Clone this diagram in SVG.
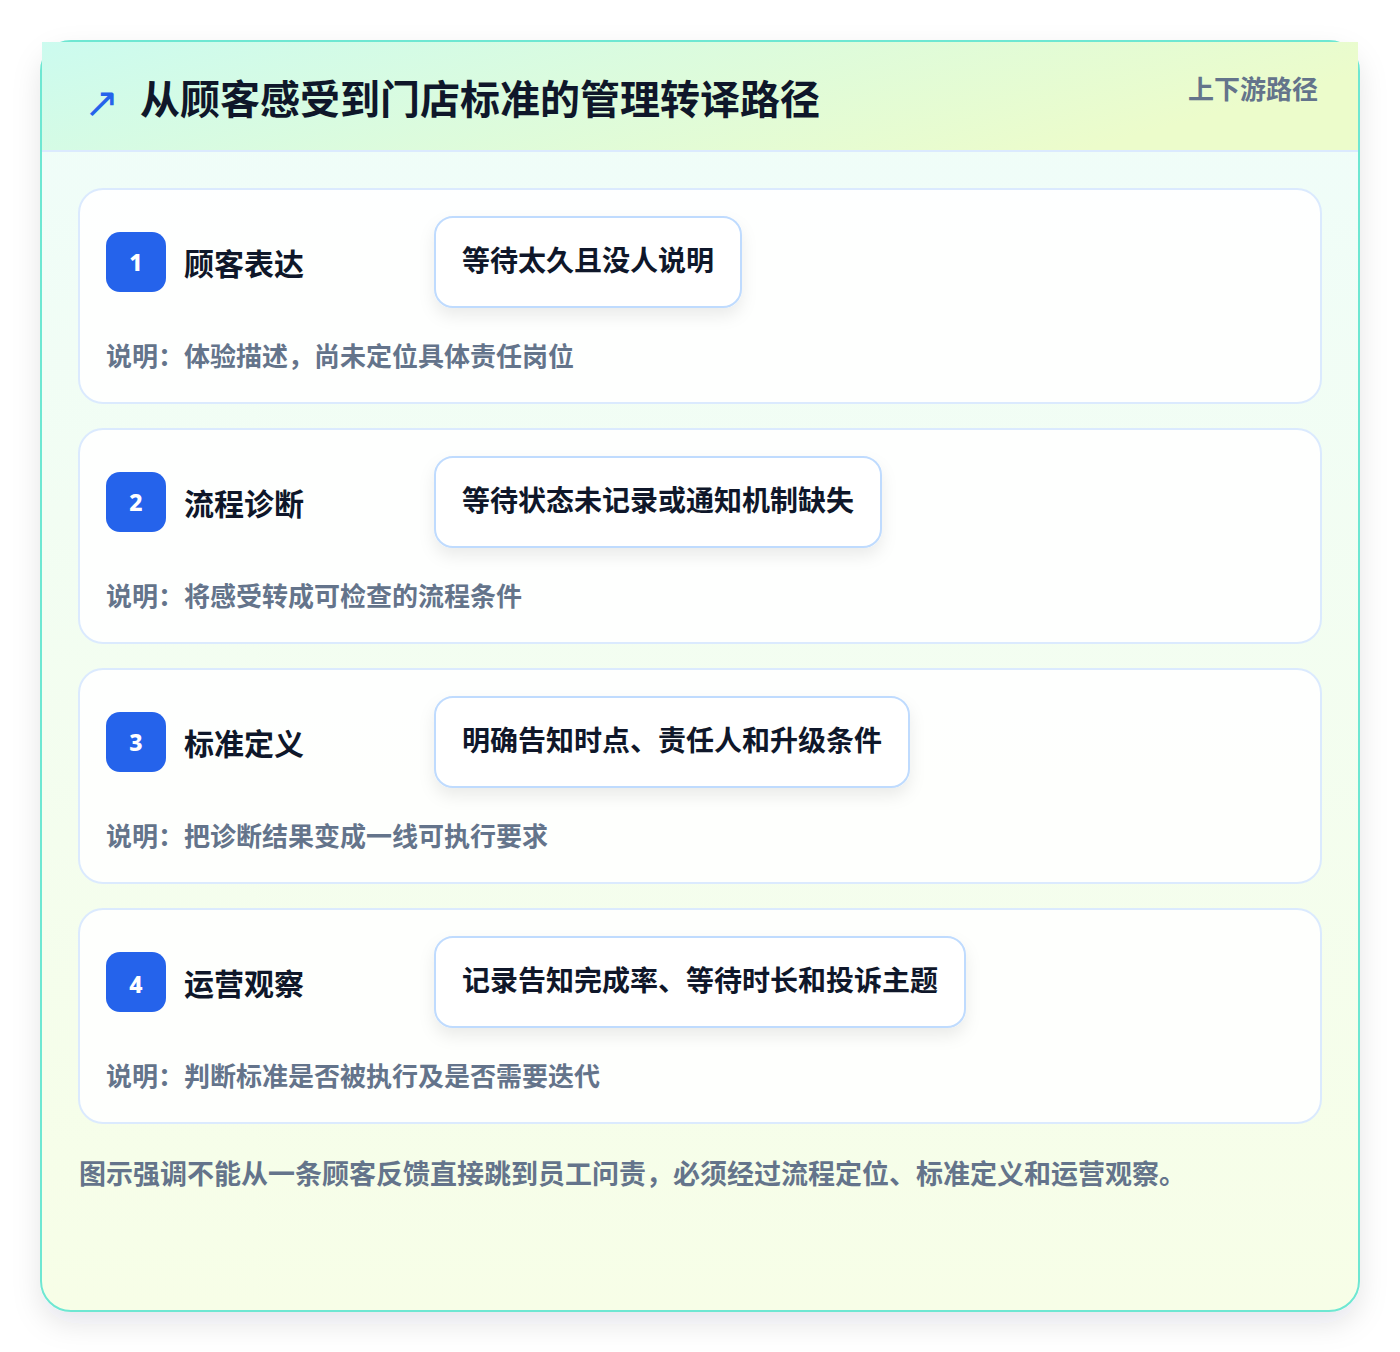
<svg xmlns="http://www.w3.org/2000/svg" width="1400" height="1352" viewBox="0 0 1400 1352">
<defs>
<linearGradient id="hdr" x1="0" y1="0" x2="1" y2="0.3">
<stop offset="0" stop-color="#ccfbef"/>
<stop offset="1" stop-color="#ecfccb"/>
</linearGradient>
<linearGradient id="body" x1="0" y1="0" x2="0" y2="1">
<stop offset="0" stop-color="#effdfa"/>
<stop offset="1" stop-color="#f7fee7"/>
</linearGradient>
<filter id="cardShadow" x="-10%" y="-10%" width="120%" height="120%">
<feDropShadow dx="0" dy="12" stdDeviation="14" flood-color="#0f172a" flood-opacity="0.10"/>
</filter>
<filter id="pillShadow" x="-20%" y="-30%" width="140%" height="170%">
<feDropShadow dx="0" dy="8" stdDeviation="8" flood-color="#0f172a" flood-opacity="0.08"/>
</filter>
<style>
.t{font-family:"Noto Sans CJK SC","Noto Sans",sans-serif;font-weight:700}
.title{font-size:40px;fill:#0f172a}
.tag{font-size:26px;fill:#64748b}
.step{fill:#ffffff;fill-opacity:0.88;stroke:#dbeafe;stroke-width:2}
.badge{fill:#2563eb}
.num{font-size:23px;fill:#ffffff;font-family:"Noto Sans","DejaVu Sans",sans-serif;font-weight:800}
.label{font-size:30px;fill:#0f172a}
.pill{fill:#ffffff;stroke:#bfdbfe;stroke-width:2}
.ptxt{font-size:28px;fill:#0f172a}
.desc{font-size:26px;fill:#64748b}
.foot{font-size:27px;fill:#64748b}
</style>
</defs>
<rect width="1400" height="1352" fill="#ffffff"/>
<g id="frame">
<rect x="41" y="41" width="1318" height="1270" rx="30" fill="url(#body)" stroke="#6ee7d2" stroke-width="2" filter="url(#cardShadow)"/>
<rect x="42" y="42" width="1316" height="109" fill="url(#hdr)"/>
<line x1="42" y1="151" x2="1358" y2="151" stroke="#dbeafe" stroke-width="2"/>
</g>
<g id="header">
<text x="84" y="117" font-family="'DejaVu Sans',sans-serif" font-size="42" fill="#2563eb">↗</text>
<text class="t title" x="140" y="114">从顾客感受到门店标准的管理转译路径</text>
<text class="t tag" x="1318" y="99" text-anchor="end">上下游路径</text>
</g>
<g id="connectors"></g>
<g id="step1">
<rect class="step" x="79" y="189" width="1242" height="214" rx="24"/>
<rect class="badge" x="106" y="232" width="60" height="60" rx="14"/>
<text class="num" x="136" y="271" text-anchor="middle">1</text>
<text class="t label" x="184" y="275">顾客表达</text>
<rect class="pill" x="435" y="217" width="306" height="90" rx="18" filter="url(#pillShadow)"/>
<text class="t ptxt" x="462" y="271">等待太久且没人说明</text>
<text class="t desc" x="106" y="366">说明：体验描述，尚未定位具体责任岗位</text>
</g>
<g id="step2">
<rect class="step" x="79" y="429" width="1242" height="214" rx="24"/>
<rect class="badge" x="106" y="472" width="60" height="60" rx="14"/>
<text class="num" x="136" y="511" text-anchor="middle">2</text>
<text class="t label" x="184" y="515">流程诊断</text>
<rect class="pill" x="435" y="457" width="446" height="90" rx="18" filter="url(#pillShadow)"/>
<text class="t ptxt" x="462" y="511">等待状态未记录或通知机制缺失</text>
<text class="t desc" x="106" y="606">说明：将感受转成可检查的流程条件</text>
</g>
<g id="step3">
<rect class="step" x="79" y="669" width="1242" height="214" rx="24"/>
<rect class="badge" x="106" y="712" width="60" height="60" rx="14"/>
<text class="num" x="136" y="751" text-anchor="middle">3</text>
<text class="t label" x="184" y="755">标准定义</text>
<rect class="pill" x="435" y="697" width="474" height="90" rx="18" filter="url(#pillShadow)"/>
<text class="t ptxt" x="462" y="751">明确告知时点、责任人和升级条件</text>
<text class="t desc" x="106" y="846">说明：把诊断结果变成一线可执行要求</text>
</g>
<g id="step4">
<rect class="step" x="79" y="909" width="1242" height="214" rx="24"/>
<rect class="badge" x="106" y="952" width="60" height="60" rx="14"/>
<text class="num" x="136" y="993" text-anchor="middle">4</text>
<text class="t label" x="184" y="995">运营观察</text>
<rect class="pill" x="435" y="937" width="530" height="90" rx="18" filter="url(#pillShadow)"/>
<text class="t ptxt" x="462" y="991">记录告知完成率、等待时长和投诉主题</text>
<text class="t desc" x="106" y="1086">说明：判断标准是否被执行及是否需要迭代</text>
</g>
<g id="footer">
<text class="t foot" x="79" y="1184">图示强调不能从一条顾客反馈直接跳到员工问责，必须经过流程定位、标准定义和运营观察。</text>
</g>
</svg>
